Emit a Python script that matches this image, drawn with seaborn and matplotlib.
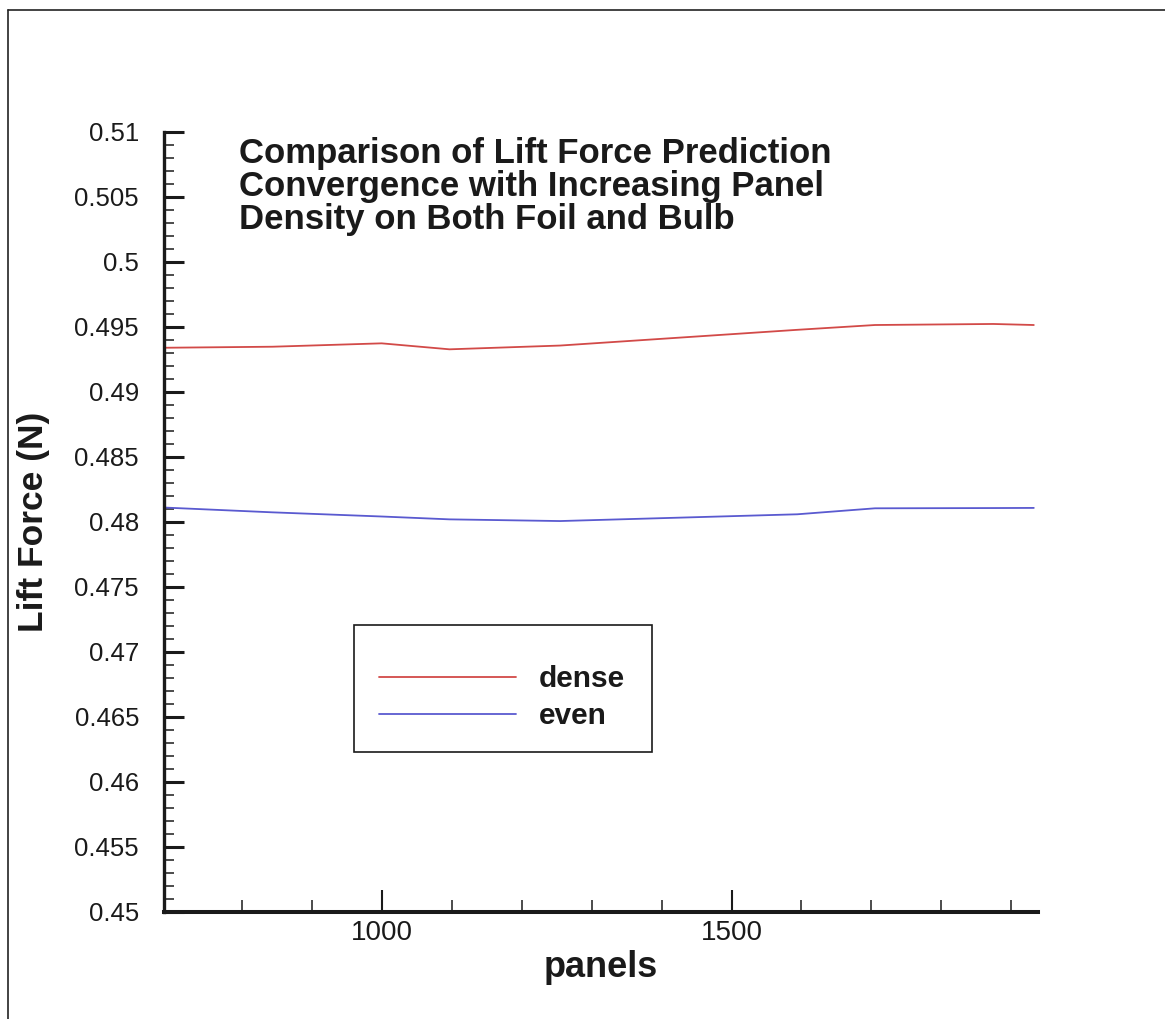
import matplotlib
matplotlib.use("Agg")
import matplotlib.pyplot as plt
from matplotlib.ticker import FixedLocator, MultipleLocator, FormatStrFormatter
from matplotlib.lines import Line2D
from matplotlib.patches import Rectangle
import numpy as np
import pandas as pd
import seaborn as sns

# Panel counts used for the convergence study
panels = [689, 844, 1000, 1097, 1255, 1594, 1705, 1874, 1932]

# Lift force (N) for each panel distribution
lift_dense = [0.49338, 0.49346, 0.49372, 0.49326, 0.49355, 0.49476, 0.49513, 0.49521, 0.49513]
lift_even = [0.48109, 0.48072, 0.48040, 0.48018, 0.48005, 0.48057, 0.48103, 0.48105, 0.48106]

series_names = ["dense", "even"]
series_colors = {"dense": "#d24a48", "even": "#5a5ad0"}

title_text = ("Comparison of Lift Force Prediction\n"
              "Convergence with Increasing Panel\n"
              "Density on Both Foil and Bulb")

df = pd.concat([
    pd.DataFrame({"panels": panels, "lift": lift_dense, "case": "dense"}),
    pd.DataFrame({"panels": panels, "lift": lift_even, "case": "even"}),
], ignore_index=True)

sns.set_theme(style="white")
plt.rcParams["font.family"] = ["Liberation Sans", "DejaVu Sans"]

W, H = 1165, 1019
fig = plt.figure(figsize=(W / 100, H / 100), dpi=100)
ax = fig.add_axes([164 / W, 1 - 911.7 / H, (1038 - 164) / W, (911.7 - 131.7) / H])

sns.lineplot(data=df, x="panels", y="lift", hue="case", hue_order=series_names,
             palette=series_colors, linewidth=1.3, ax=ax, legend=False,
             estimator=None, sort=True)

ax.set_xlim(689, 1938)
ax.set_ylim(0.45, 0.51)

# spines: only left and bottom, heavy
for side in ("top", "right"):
    ax.spines[side].set_visible(False)
ax.spines["left"].set_linewidth(2.4)
ax.spines["bottom"].set_linewidth(2.9)
ax.spines["left"].set_color("#1a1a1a")
ax.spines["bottom"].set_color("#1a1a1a")

# y ticks
ax.yaxis.set_major_locator(MultipleLocator(0.005))
ax.yaxis.set_minor_locator(MultipleLocator(0.001))
ax.yaxis.set_major_formatter(FormatStrFormatter("%g"))
ax.tick_params(axis="y", which="major", direction="in", length=14.5, width=2.2,
               color="#1a1a1a", labelsize=18.5, pad=18, left=True)
ax.tick_params(axis="y", which="minor", direction="in", length=7, width=1.1,
               color="#1a1a1a", left=True)

# x ticks
ax.xaxis.set_major_locator(FixedLocator([1000, 1500]))
ax.xaxis.set_minor_locator(FixedLocator([800, 900, 1100, 1200, 1300, 1400,
                                         1600, 1700, 1800, 1900]))
ax.tick_params(axis="x", which="major", direction="in", length=16, width=1.5,
               color="#1a1a1a", labelsize=20, pad=6, bottom=True)
ax.tick_params(axis="x", which="minor", direction="in", length=9, width=1.1,
               color="#1a1a1a", bottom=True)

for lab in ax.get_yticklabels() + ax.get_xticklabels():
    lab.set_color("#1a1a1a")

ax.set_xlabel("panels", fontsize=26, fontweight="bold", color="#1a1a1a", labelpad=3)
ax.set_ylabel("Lift Force (N)", fontsize=25.5, fontweight="bold", color="#1a1a1a")
ax.yaxis.set_label_coords(-0.13, 0.50)

# title block inside the plot
ax.text((239 - 164) / 874, (911.7 - 137) / 780, title_text, transform=ax.transAxes,
        ha="left", va="top", fontsize=25, fontweight="bold", color="#1a1a1a",
        linespacing=1.0)

# legend with its own frame
handles = [Line2D([], [], color=series_colors[n], linewidth=1.3) for n in series_names]
leg = ax.legend(handles, series_names, loc="upper left",
                bbox_to_anchor=((379 - 164) / 874, (911.7 - 665) / 780),
                frameon=False, handlelength=4.6, handletextpad=0.75,
                labelspacing=0.3, borderpad=0.0, borderaxespad=0.0,
                prop={"family": "Liberation Sans", "weight": "bold", "size": 21.5})
for t in leg.get_texts():
    t.set_color("#1a1a1a")
ax.add_patch(Rectangle(((354 - 164) / 874, (911.7 - 752) / 780),
                       (652 - 354) / 874, (752 - 625) / 780,
                       transform=ax.transAxes, fill=False, edgecolor="#1a1a1a",
                       linewidth=1.2, clip_on=False))

# page frame
fig.add_artist(Line2D([8 / W, 8 / W], [0, 1 - 10 / H], transform=fig.transFigure,
                      color="#222222", linewidth=1.2))
fig.add_artist(Line2D([8 / W, 1], [1 - 10 / H, 1 - 10 / H], transform=fig.transFigure,
                      color="#222222", linewidth=1.2))

fig.savefig("out.png", dpi=100, facecolor="white")
